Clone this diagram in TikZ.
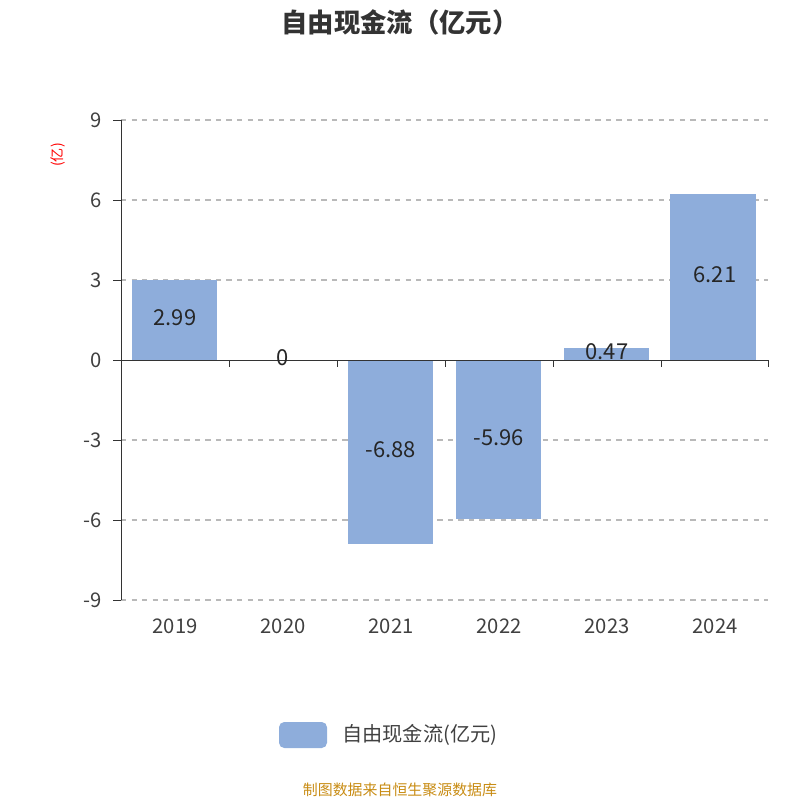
\documentclass[tikz,border=0pt]{standalone}
\usepackage{fontspec}
\setmainfont{Noto Sans CJK SC}
\begin{document}
\begin{tikzpicture}[x=0.02cm,y=-0.02cm,
  grid/.style={draw=gray!55,dashed,line width=0.6pt},
  bar/.style={fill={rgb,255:red,142;green,173;blue,219},draw=none},
  val/.style={font=\fontsize{12.5}{14}\selectfont,text=black!85},
  lab/.style={font=\fontsize{11.5}{13}\selectfont,text=black!75}]
\useasboundingbox (0,0) rectangle (800,800);
\node[font=\fontsize{15}{17}\selectfont\bfseries,text=black!80] (title) at (400,22) {自由现金流（亿元）};
\foreach \v/\y in {9/120,6/200,3/280,-3/440,-6/520,-9/600}{
  \draw[grid] (121,\y) -- (768,\y);
}
\foreach \v/\y in {9/120,6/200,3/280,0/360,-3/440,-6/520,-9/600}{
  \draw[black!80] (113,\y) -- (121,\y);
  \node[lab,anchor=east] at (108,\y) {\v};
}
\node[rotate=90,text=red,font=\fontsize{8}{9}\selectfont] (unit) at (58,155) {(亿)};
\fill[bar] (132,280.3) rectangle (217,360);
\fill[bar] (348,360) rectangle (433,543.5);
\fill[bar] (456,360) rectangle (541,519);
\fill[bar] (564,347.5) rectangle (649,360);
\fill[bar] (670,194.4) rectangle (756,360);
\draw[black!80] (121,120) -- (121,600);
\draw[black!80] (121,360) -- (768,360);
\foreach \x in {121,229,337,445,553,661,768}{\draw[black!80] (\x,360) -- (\x,367);}
\foreach \x/\t in {175/2019,283/2020,391/2021,499/2022,607/2023,715/2024}{
  \node[lab] at (\x,626) {\t};
}
\node[val] at (175,318) {2.99};
\node[val] at (283,358) {0};
\node[val] at (391,450) {-6.88};
\node[val] at (499,438) {-5.96};
\node[val] at (607,352) {0.47};
\node[val] at (715,275) {6.21};
\fill[bar,rounded corners=3pt] (279,722) rectangle (327,748);
\node[lab,anchor=west] (leg) at (336,735) {自由现金流(亿元)};
\node[text={rgb,255:red,200;green,140;blue,20},font=\fontsize{8.5}{10}\selectfont] (foot) at (400,790) {制图数据来自恒生聚源数据库};
\end{tikzpicture}
\end{document}
